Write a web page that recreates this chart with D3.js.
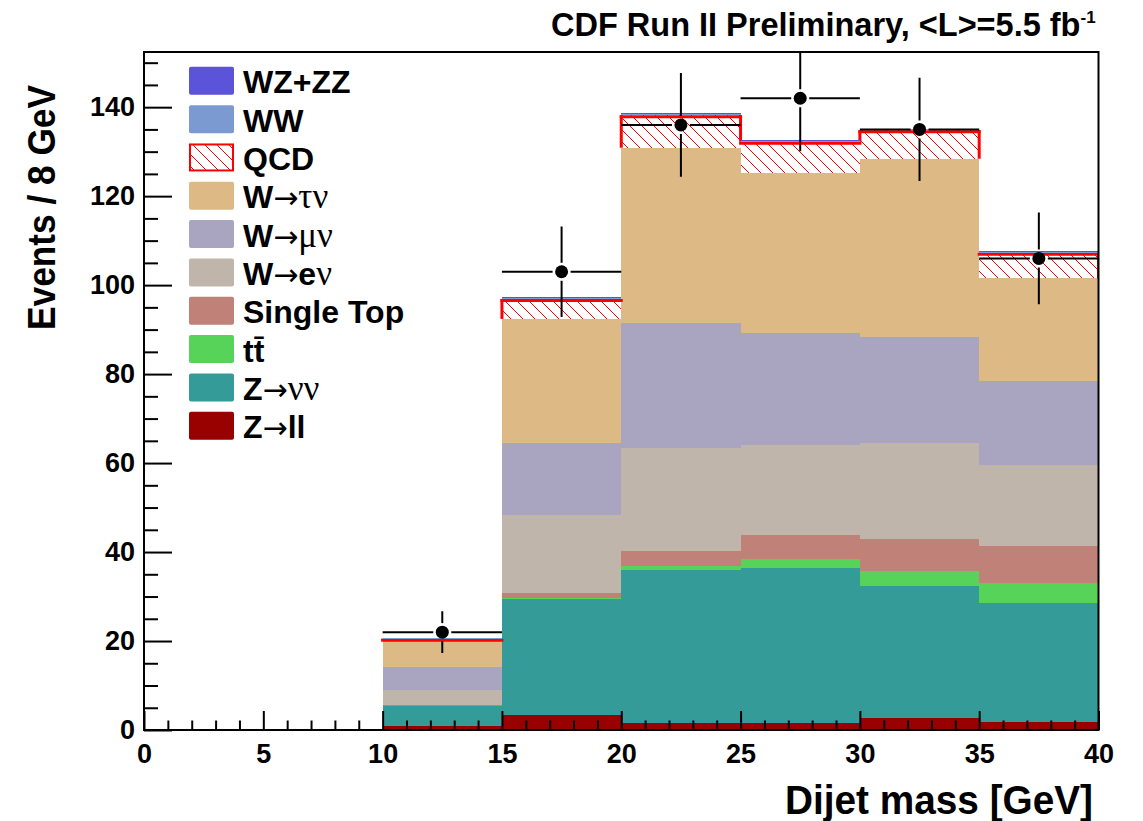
<!DOCTYPE html>
<html>
<head>
<meta charset="utf-8">
<script src="https://cdn.jsdelivr.net/npm/d3@7"></script>
<style>
  body { margin: 0; background: #fff; }
  svg { display: block; }
</style>
</head>
<body>
<svg id="chart" width="1143" height="821"></svg>
<script>
// Bin lower edges in GeV; every bin is 5 GeV wide
const binLow = [0, 5, 10, 15, 20, 25, 30, 35];
const binWidth = 5;

// Expected events per bin, one array per process (stacked bottom to top)
const zll       = [0.15, 0.15, 1.0, 3.4, 1.5, 1.65, 2.8, 1.9];
const znunu     = [0, 0, 4.4, 26.0, 34.5, 34.85, 29.6, 26.6];
const ttbar     = [0, 0, 0.1, 0.3, 0.9, 1.9, 3.3, 4.5];
const singleTop = [0, 0, 0.2, 1.0, 3.3, 5.4, 7.2, 8.3];
const wenu      = [0, 0, 3.3, 17.6, 23.3, 20.2, 21.5, 18.3];
const wmunu     = [0, 0, 5.2, 16.3, 27.9, 25.2, 24.0, 18.8];
const wtaunu    = [0, 0, 6.0, 27.8, 39.5, 36.0, 40.0, 23.1];
const qcd       = [0, 0, 0.3, 4.5, 7.3, 7.0, 6.4, 5.8];
const ww        = [0, 0, 0.1, 0.25, 0.25, 0.25, 0.25, 0.25];
const wzzz      = [0, 0, 0.05, 0.15, 0.2, 0.15, 0.15, 0.15];

// Observed events per bin (null: empty bin, nothing drawn)
const observed = [null, null, 22, 103, 136, 142, 135, 106];

// Axis tick labels
const xTickValues = [0, 5, 10, 15, 20, 25, 30, 35, 40];
const yTickValues = [0, 20, 40, 60, 80, 100, 120, 140];

// Text
const titleText = "CDF Run II Preliminary, <L>=5.5 fb";
const titleSup = "-1";
const xTitle = "Dijet mass [GeV]";
const yTitle = "Events / 8 GeV";

// Process keys in stacking order and their legend labels (legend lists them top-down)
// Label parts: [text, style] with style 0 = bold sans, 1 = arrow, 2 = greek symbol
const keys = ["zll", "znunu", "ttbar", "singleTop", "wenu", "wmunu", "wtaunu", "qcd", "ww", "wzzz"];
const seriesByKey = { zll, znunu, ttbar, singleTop, wenu, wmunu, wtaunu, qcd, ww, wzzz };
const legendLabels = {
  wzzz:      [["WZ+ZZ", 0]],
  ww:        [["WW", 0]],
  qcd:       [["QCD", 0]],
  wtaunu:    [["W", 0], ["\u2192", 1], ["\u03C4\u03BD", 2]],
  wmunu:     [["W", 0], ["\u2192", 1], ["\u03BC\u03BD", 2]],
  wenu:      [["W", 0], ["\u2192", 1], ["e", 0], ["\u03BD", 2]],
  singleTop: [["Single Top", 0]],
  ttbar:     [["t", 0], ["t\u0304", 0]],
  znunu:     [["Z", 0], ["\u2192", 1], ["\u03BD\u03BD", 2]],
  zll:       [["Z", 0], ["\u2192", 1], ["ll", 0]]
};

// Fill colours
const colors = {
  wzzz: "#5b53d9",
  ww: "#7b9ad2",
  qcd: "#ff0000",
  wtaunu: "#ddb986",
  wmunu: "#a9a5c1",
  wenu: "#c0b5aa",
  singleTop: "#c08178",
  ttbar: "#58d35a",
  znunu: "#359b99",
  zll: "#990000"
};

const W = 1143, H = 821;
const margin = { left: 144, right: W - 1098.5, top: 52, bottom: H - 730 };
const plotW = W - margin.left - margin.right;
const plotH = H - margin.top - margin.bottom;

const svg = d3.select("#chart");
const sansBold = "'Liberation Sans', Arial, Helvetica, sans-serif";
const symFont = "'Liberation Serif', 'DejaVu Serif', 'Times New Roman', serif";
const arrowFont = "'DejaVu Sans', 'Liberation Sans', sans-serif";

const x = d3.scaleLinear().domain([0, 40]).range([margin.left, margin.left + plotW]);
const y = d3.scaleLinear().domain([0, 152.4]).range([margin.top + plotH, margin.top]);

// Hatch pattern for the QCD component
const defs = svg.append("defs");
const pat = defs.append("pattern")
  .attr("id", "hatch")
  .attr("patternUnits", "userSpaceOnUse")
  .attr("width", 12).attr("height", 12);
pat.append("rect").attr("width", 12).attr("height", 12).attr("fill", "#fff");
pat.append("path").attr("d", "M-3,-3 L15,15 M-3,9 L3,15 M9,-3 L15,3")
  .attr("stroke", "#ff0000").attr("stroke-width", 1);

defs.append("clipPath").attr("id", "plotClip")
  .append("rect")
  .attr("x", margin.left).attr("y", margin.top)
  .attr("width", plotW).attr("height", plotH);

// Stack the processes
const rows = binLow.map((lo, i) => {
  const r = { lo };
  keys.forEach(k => { r[k] = seriesByKey[k][i]; });
  return r;
});
const stacked = d3.stack().keys(keys)(rows);
const layerOf = {};
stacked.forEach(l => { layerOf[l.key] = l; });

const plot = svg.append("g").attr("clip-path", "url(#plotClip)");

function drawBands(key) {
  const layer = layerOf[key];
  plot.append("g").selectAll("rect")
    .data(layer.filter(d => d[1] > d[0]))
    .join("rect")
    .attr("x", d => x(d.data.lo))
    .attr("width", d => x(d.data.lo + binWidth) - x(d.data.lo))
    .attr("y", d => y(d[1]))
    .attr("height", d => y(d[0]) - y(d[1]))
    .attr("fill", key === "qcd" ? "url(#hatch)" : colors[key])
    .attr("shape-rendering", "crispEdges");
}

["zll", "znunu", "ttbar", "singleTop", "wenu", "wmunu", "wtaunu", "qcd"].forEach(drawBands);

// Red outline of the QCD histogram (visible part above the W->tau nu fill)
const qTop = layerOf.qcd.map(d => (d[1] > d[0] ? d[1] : 0));
const tTop = layerOf.wtaunu.map((d, i) => (qcd[i] > 0 ? d[1] : 0));
const outline = plot.append("g").attr("stroke", "#ff0000").attr("stroke-width", 3).attr("fill", "none");
qTop.forEach((q, i) => {
  if (q <= 0) return;
  outline.append("line")
    .attr("x1", x(binLow[i]) - 1.5).attr("x2", x(binLow[i] + binWidth) + 1.5)
    .attr("y1", y(q) + 1.5).attr("y2", y(q) + 1.5);
});
for (let k = 0; k <= binLow.length; k++) {
  const qL = k > 0 ? qTop[k - 1] : 0, qR = k < binLow.length ? qTop[k] : 0;
  const tL = k > 0 ? tTop[k - 1] : 0, tR = k < binLow.length ? tTop[k] : 0;
  const top = Math.max(qL, qR);
  const bottom = Math.max(Math.min(qL, qR), tL, tR);
  if (top <= bottom) continue;
  const xe = k < binLow.length ? x(binLow[k]) : x(binLow[k - 1] + binWidth);
  outline.append("line")
    .attr("x1", xe).attr("x2", xe)
    .attr("y1", y(top)).attr("y2", y(bottom));
}

["ww", "wzzz"].forEach(drawBands);

// Observed data with statistical error bars
const dataPts = binLow.map((lo, i) => ({ lo, n: observed[i] })).filter(d => d.n !== null);
const r = 6.5, gap = 2.5;
const dg = plot.append("g").attr("stroke", "#000").attr("stroke-width", 2);
dataPts.forEach(d => {
  const cx = x(d.lo + binWidth / 2), cy = y(d.n);
  const e = Math.sqrt(d.n);
  dg.append("line").attr("x1", x(d.lo)).attr("x2", cx - r - gap).attr("y1", cy).attr("y2", cy);
  dg.append("line").attr("x1", cx + r + gap).attr("x2", x(d.lo + binWidth)).attr("y1", cy).attr("y2", cy);
  dg.append("line").attr("x1", cx).attr("x2", cx).attr("y1", y(d.n + e)).attr("y2", cy - r - gap);
  dg.append("line").attr("x1", cx).attr("x2", cx).attr("y1", cy + r + gap).attr("y2", y(d.n - e));
});
plot.append("g").selectAll("circle")
  .data(dataPts)
  .join("circle")
  .attr("cx", d => x(d.lo + binWidth / 2))
  .attr("cy", d => y(d.n))
  .attr("r", r)
  .attr("fill", "#000");

// Axes with inward ticks
const xMinor = d3.range(0, 41, 1).filter(v => v % 5 !== 0);
const yMinor = d3.range(0, 152, 5).filter(v => v % 20 !== 0);

function styleAxis(g) {
  g.select(".domain").remove();
  g.selectAll(".tick line").attr("stroke", "#000").attr("stroke-width", 2);
  g.selectAll("text").attr("font-family", sansBold).attr("font-weight", "bold")
    .attr("font-size", 27).attr("fill", "#000");
}

svg.append("g")
  .attr("transform", `translate(0,${margin.top + plotH})`)
  .call(d3.axisBottom(x).tickValues(xMinor).tickSizeInner(-9.5).tickSizeOuter(0).tickFormat(""))
  .call(styleAxis);
svg.append("g")
  .attr("transform", `translate(0,${margin.top + plotH})`)
  .call(d3.axisBottom(x).tickValues(xTickValues).tickSizeInner(-19).tickSizeOuter(0).tickPadding(14).tickFormat(d3.format("d")))
  .call(styleAxis);
svg.append("g")
  .attr("transform", `translate(${margin.left},0)`)
  .call(d3.axisLeft(y).tickValues(yMinor).tickSizeInner(-14).tickSizeOuter(0).tickFormat(""))
  .call(styleAxis);
svg.append("g")
  .attr("transform", `translate(${margin.left},0)`)
  .call(d3.axisLeft(y).tickValues(yTickValues).tickSizeInner(-28).tickSizeOuter(0).tickPadding(9).tickFormat(d3.format("d")))
  .call(styleAxis);

// Frame
svg.append("rect")
  .attr("x", margin.left).attr("y", margin.top)
  .attr("width", plotW).attr("height", plotH)
  .attr("fill", "none").attr("stroke", "#000").attr("stroke-width", 2);

// Axis titles
svg.append("text")
  .attr("x", 1093).attr("y", 814)
  .attr("text-anchor", "end")
  .attr("font-family", sansBold).attr("font-weight", "bold").attr("font-size", 40)
  .attr("textLength", 308).attr("lengthAdjust", "spacingAndGlyphs")
  .text(xTitle);

svg.append("text")
  .attr("transform", "translate(55,85) rotate(-90)")
  .attr("text-anchor", "end")
  .attr("font-family", sansBold).attr("font-weight", "bold").attr("font-size", 39)
  .attr("textLength", 245).attr("lengthAdjust", "spacingAndGlyphs")
  .text(yTitle);

// Title
const title = svg.append("text")
  .attr("x", 551).attr("y", 36)
  .attr("font-family", sansBold).attr("font-weight", "bold").attr("font-size", 32.5);
title.append("tspan").text(titleText);
title.append("tspan").attr("font-size", 17).attr("dy", -13).text(titleSup);

// Legend
const legendOrder = keys.slice().reverse();
const leg = svg.append("g");
legendOrder.forEach((k, i) => {
  const cy = 80.8 + 38.33 * i;
  const box = leg.append("rect")
    .attr("x", 189).attr("y", cy - 14)
    .attr("width", 45).attr("height", 28)
    .attr("rx", 2);
  if (k === "qcd") {
    box.attr("x", 190).attr("y", cy - 13).attr("width", 43).attr("height", 26)
      .attr("fill", "url(#hatch)").attr("stroke", "#ff0000").attr("stroke-width", 2).attr("rx", 0);
  } else {
    box.attr("fill", colors[k]);
  }
  const t = leg.append("text")
    .attr("x", 243).attr("y", cy + 12.5)
    .attr("font-size", 32).attr("fill", "#000");
  legendLabels[k].forEach(([s, style]) => {
    const ts = t.append("tspan").text(s);
    if (style === 0) {
      ts.attr("font-family", sansBold).attr("font-weight", "bold");
    } else if (style === 1) {
      ts.attr("font-family", arrowFont).attr("font-weight", "normal").attr("font-size", 30);
    } else {
      ts.attr("font-family", symFont).attr("font-weight", "normal").attr("font-size", 35);
    }
  });
});
</script>
</body>
</html>
